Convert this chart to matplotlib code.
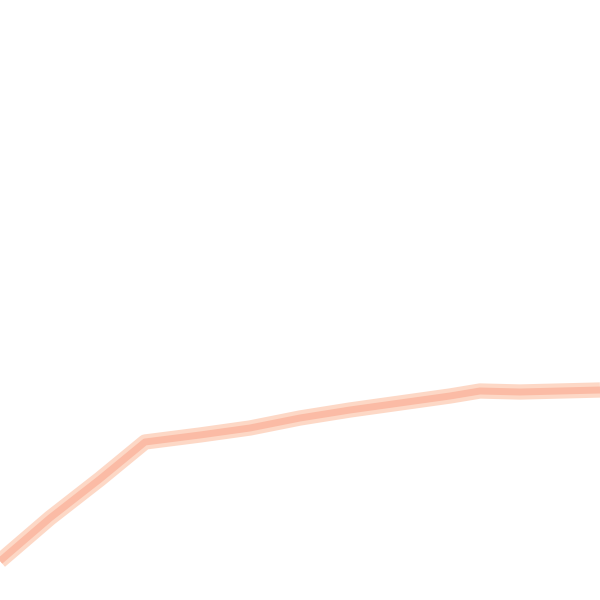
import matplotlib
matplotlib.use("Agg")
import matplotlib.pyplot as plt

# ─── Data ─────────────────────────────────────────────────────────────────────

x_vals = [0, 50, 100, 145, 200, 250, 300, 350, 400, 450, 480, 520, 560, 600]
y_vals = [39, 82, 121, 158, 165, 172, 182, 190, 197, 204, 209, 208, 209, 210]


# ─── Plot ─────────────────────────────────────────────────────────────────────

fig = plt.figure(figsize=(6, 6), dpi=100)
ax = fig.add_axes([0, 0, 1, 1])

# soft outer band, then the darker core of the line
ax.plot(x_vals, y_vals, color="#fdd8c6", linewidth=11, solid_capstyle="butt")
ax.plot(x_vals, y_vals, color="#fbbba5", linewidth=5, solid_capstyle="butt")

ax.set_xlim(0, 600)
ax.set_ylim(0, 600)
ax.axis("off")

fig.savefig("out.png", dpi=100, facecolor="white")
plt.close(fig)
